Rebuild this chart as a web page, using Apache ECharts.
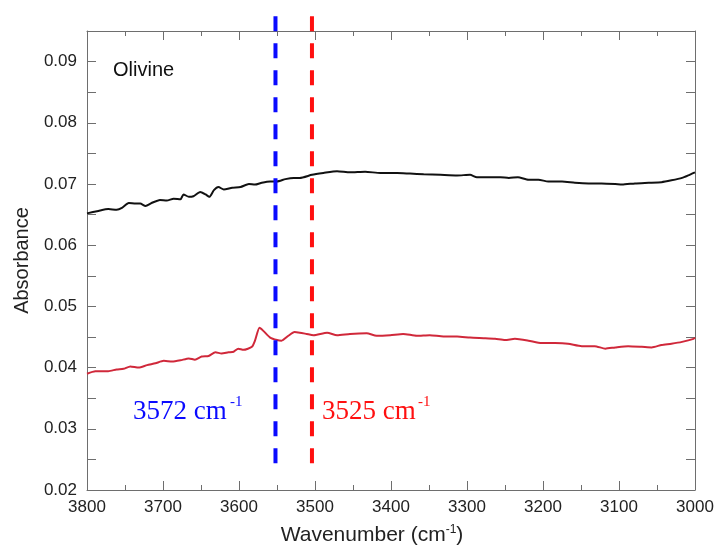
<!DOCTYPE html>
<html>
<head>
<meta charset="utf-8">
<script src="https://cdn.jsdelivr.net/npm/echarts@6/dist/echarts.min.js"></script>
<style>
html,body{margin:0;padding:0;background:#fff;overflow:hidden;}
#chart{width:717px;height:551px;}
</style>
</head>
<body>
<div id="chart"></div>
<script>
// Black (upper) spectrum
var blackWavenumber = [3800,3785,3772,3761,3754,3745,3736,3730,3723,3715,3704,3695,3686,3677,3673,3666,3660,3651,3644,3639,3633,3627,3620,3609,3598,3587,3579,3570,3559,3550,3539,3528,3520,3504,3489,3471,3454,3434,3414,3392,3375,3357,3335,3313,3296,3287,3270,3256,3245,3233,3219,3206,3193,3175,3158,3140,3123,3105,3096,3079,3061,3044,3031,3017,3009,3000];
var blackAbsorbance = [0.0652,0.0656,0.0659,0.0658,0.0661,0.0669,0.0668,0.0668,0.0664,0.0669,0.0674,0.0673,0.0676,0.0675,0.0683,0.0679,0.0680,0.0687,0.0683,0.0679,0.0690,0.0695,0.0691,0.0694,0.0695,0.0700,0.0699,0.0702,0.0704,0.0704,0.0708,0.0710,0.0710,0.0715,0.0718,0.0721,0.0719,0.0720,0.0718,0.0718,0.0717,0.0716,0.0715,0.0714,0.0715,0.0711,0.0711,0.0711,0.0710,0.0711,0.0707,0.0707,0.0704,0.0704,0.0702,0.0701,0.0701,0.0700,0.0699,0.0701,0.0702,0.0703,0.0706,0.0710,0.0714,0.0719];
// Red (lower) spectrum
var redWavenumber = [3800,3789,3772,3761,3752,3743,3732,3721,3710,3699,3688,3677,3666,3658,3649,3640,3631,3623,3614,3607,3601,3594,3583,3579,3573,3568,3559,3550,3544,3535,3527,3520,3511,3502,3484,3471,3454,3432,3419,3401,3384,3366,3349,3331,3313,3296,3278,3263,3250,3237,3219,3202,3184,3167,3149,3132,3118,3105,3088,3070,3057,3044,3031,3017,3002,3000];
var redAbsorbance = [0.0390,0.0394,0.0394,0.0397,0.0398,0.0402,0.0400,0.0404,0.0407,0.0411,0.0410,0.0412,0.0415,0.0413,0.0418,0.0419,0.0425,0.0423,0.0425,0.0426,0.0431,0.0429,0.0434,0.0444,0.0465,0.0460,0.0449,0.0445,0.0444,0.0452,0.0458,0.0457,0.0455,0.0453,0.0457,0.0453,0.0455,0.0456,0.0452,0.0453,0.0455,0.0452,0.0453,0.0451,0.0451,0.0449,0.0448,0.0447,0.0445,0.0447,0.0444,0.0440,0.0440,0.0439,0.0435,0.0435,0.0431,0.0433,0.0435,0.0434,0.0433,0.0437,0.0439,0.0442,0.0447,0.0449];
// Vertical dashed marker lines
var markerWavenumbers = [3552, 3504];
var markerSpan = [0.0974, 0.0234];
var markerLabels = ['3572 cm', '3525 cm'];
// Axis settings
var xTicks = {min: 3000, max: 3800, step: 100};
var yTicks = {min: 0.02, max: 0.095, step: 0.005};

function zip(a, b) { return a.map(function (v, i) { return [v, b[i]]; }); }

var chart = echarts.init(document.getElementById('chart'), null, {renderer: 'canvas', width: 717, height: 551});
var axisColor = '#6e6e6e';
var sans = '"Liberation Sans", Arial, sans-serif';
var serif = '"Liberation Serif", "Times New Roman", serif';

function xAx(pos, showLabel) {
  return {
    type: 'value', position: pos, min: xTicks.min, max: xTicks.max, interval: xTicks.step, inverse: true,
    axisLine: {show: true, onZero: false, lineStyle: {color: axisColor, width: 1}},
    axisTick: {show: true, inside: true, length: 9, lineStyle: {color: axisColor}},
    minorTick: {show: true, splitNumber: 2, length: 5, lineStyle: {color: axisColor}},
    splitLine: {show: false},
    axisLabel: {show: showLabel, fontSize: 17, color: '#222', fontFamily: sans, margin: 9,
      formatter: function (v) { return String(v); }},
    name: showLabel ? '{a|Wavenumber (cm}{s|-1}{a|)}' : '',
    nameLocation: 'middle', nameGap: 34,
    nameTextStyle: {padding: [0, 38, 0, 0], rich: {
      a: {fontSize: 21, fontFamily: sans, color: '#222', lineHeight: 23},
      s: {fontSize: 12, fontFamily: sans, color: '#222', lineHeight: 23, verticalAlign: 'top', padding: [0, 0, 8, 0]}
    }}
  };
}
function yAx(pos, showLabel) {
  return {
    type: 'value', position: pos, min: yTicks.min, max: yTicks.max, interval: yTicks.step,
    axisLine: {show: true, onZero: false, lineStyle: {color: axisColor, width: 1}},
    axisTick: {show: true, inside: true, length: 9, lineStyle: {color: axisColor}},
    splitLine: {show: false},
    axisLabel: {show: showLabel, fontSize: 17, color: '#222', fontFamily: sans, margin: 10,
      formatter: function (v) { return Math.round(v * 1000) % 10 === 0 ? v.toFixed(2) : ''; }},
    name: showLabel ? 'Absorbance' : '',
    nameLocation: 'middle', nameGap: 55,
    nameTextStyle: {fontSize: 20, fontFamily: sans, color: '#222'}
  };
}

var option = {
  animation: false,
  backgroundColor: '#fff',
  grid: {left: 87, right: 22, top: 31, bottom: 55},
  xAxis: [xAx('bottom', true), xAx('top', false)],
  yAxis: [yAx('left', true), yAx('right', false)],
  series: [
    {type: 'line', data: zip(blackWavenumber, blackAbsorbance), showSymbol: false, smooth: 0.2,
      lineStyle: {color: '#111', width: 2}, silent: true},
    {type: 'line', data: zip(redWavenumber, redAbsorbance), showSymbol: false, smooth: 0.2,
      lineStyle: {color: '#d0283a', width: 2}, silent: true},
    {type: 'line', data: [[markerWavenumbers[0], markerSpan[0]], [markerWavenumbers[0], markerSpan[1]]],
      showSymbol: false, clip: false, silent: true,
      lineStyle: {color: '#0a0aff', width: 4, type: [15, 12]}},
    {type: 'line', data: [[markerWavenumbers[1], markerSpan[0]], [markerWavenumbers[1], markerSpan[1]]],
      showSymbol: false, clip: false, silent: true,
      lineStyle: {color: '#ff1010', width: 4, type: [15, 12]}}
  ],
  graphic: [
    {type: 'text', left: 113, top: 60, style: {text: 'Olivine', fontSize: 20, fontFamily: sans, fill: '#111'}},
    {type: 'text', left: 133, top: 398, style: {text: markerLabels[0], fontSize: 27, fontFamily: serif, fill: '#0a0aff'}},
    {type: 'text', left: 230, top: 395, style: {text: '-1', fontSize: 15, fontFamily: serif, fill: '#0a0aff'}},
    {type: 'text', left: 322, top: 398, style: {text: markerLabels[1], fontSize: 27, fontFamily: serif, fill: '#ff1010'}},
    {type: 'text', left: 418, top: 395, style: {text: '-1', fontSize: 15, fontFamily: serif, fill: '#ff1010'}}
  ]
};
chart.setOption(option);
</script>
</body>
</html>
